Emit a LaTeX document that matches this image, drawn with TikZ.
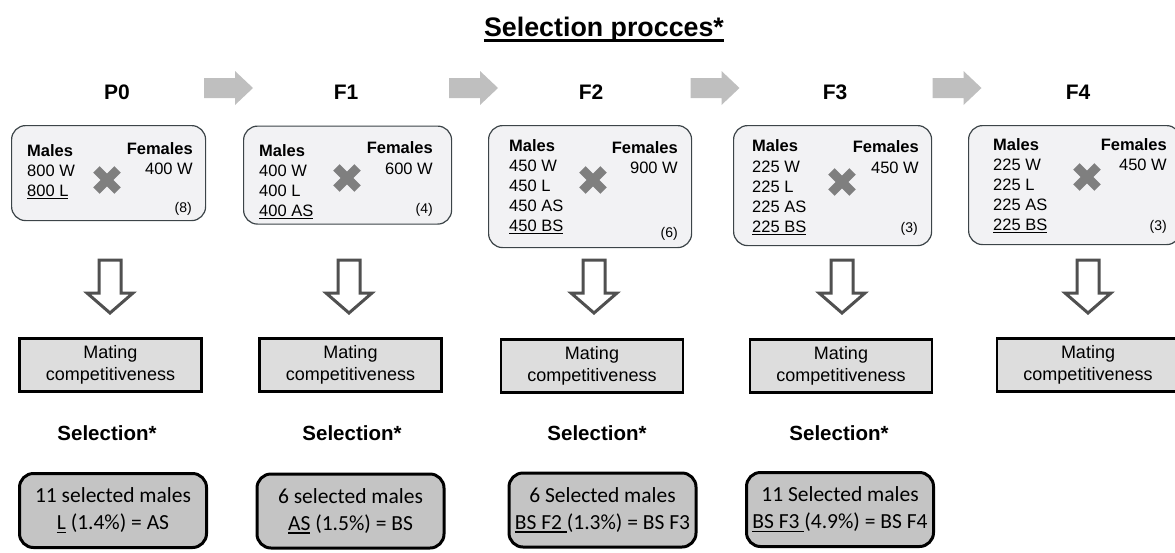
\documentclass[tikz,border=0pt]{standalone}
\usepackage{fontspec}
\setmainfont{Liberation Sans}
\newfontfamily\calfont{Carlito}
\definecolor{topborder}{HTML}{3C4448}
\definecolor{topfill}{HTML}{F2F2F4}
\definecolor{xgray}{HTML}{7F7F7F}
\definecolor{arrgray}{HTML}{BFBFBF}
\definecolor{darrgray}{HTML}{505050}
\definecolor{matefill}{HTML}{DDDDDD}
\definecolor{selfill}{HTML}{C4C4C4}
\newcommand\myul[2][1pt]{\setbox0\hbox{#2}\makebox[0pt][l]{\rule[-3.2pt]{\wd0}{#1}}\box0\relax}
\begin{document}
\begin{tikzpicture}[x=1pt,y=-1pt,
  topbox/.style={draw=topborder, line width=1.2pt, fill=topfill, rounded corners=14pt, anchor=north west, inner sep=0, minimum width=#1},
  lbl/.style={inner sep=0, font=\fontsize{16.5}{20}\selectfont},
  lblb/.style={inner sep=0, font=\fontsize{16.5}{20}\selectfont\bfseries},
  small/.style={inner sep=0, font=\fontsize{14}{16}\selectfont, anchor=base east},
  head/.style={inner sep=0, font=\fontsize{21}{25}\selectfont\bfseries, anchor=base},
  matebox/.style={draw=black, line width=2.6pt, fill=matefill, minimum width=182, minimum height=53, align=center, inner sep=0, font=\fontsize{18}{22}\selectfont},
  selbox/.style={draw=black, line width=3pt, fill=selfill, rounded corners=14pt, minimum width=187, minimum height=74, align=center, inner sep=0, font=\calfont\fontsize{21.5}{27}\selectfont},
  seltxt/.style={inner sep=0, font=\fontsize{20.5}{24}\selectfont\bfseries, anchor=base},
  xmark/.pic={\draw[xgray, line width=9pt] (-10.6,-10.6) -- (10.6,10.6) (-10.6,10.6) -- (10.6,-10.6);},
  rarrow/.pic={\fill[arrgray] (-24,-10) -- (7,-10) -- (7,-17) -- (25,0) -- (7,17) -- (7,10) -- (-24,10) -- cycle;},
  darrow/.pic={\draw[darrgray, line width=3pt, line join=miter, fill=white] (-11,-27) -- (11,-27) -- (11,6) -- (23,6) -- (0,26) -- (-23,6) -- (-11,6) -- cycle;}
]
\useasboundingbox (0,0) rectangle (1175,552);

% title
\node[inner sep=0, anchor=base, font=\fontsize{26.8}{30}\selectfont\bfseries] (title) at (604,36) {Selection procces*};
\draw[line width=2.3pt] ([yshift=-4.5pt]title.base west) -- ([yshift=-4.5pt]title.base east);

% headings
\node[head] (hP0) at (117,99.5) {P0};
\node[head] (hF1) at (346,99.5) {F1};
\node[head] (hF2) at (591,99.5) {F2};
\node[head] (hF3) at (835,99.5) {F3};
\node[head] (hF4) at (1078,99.5) {F4};

% gray arrows between headings
\coordinate (r1) at (228,88);
\coordinate (r2) at (473,88);
\coordinate (r3) at (714.5,88);
\coordinate (r4) at (956.5,88);
\pic at (r1) {rarrow};
\pic at (r2) {rarrow};
\pic at (r3) {rarrow};
\pic at (r4) {rarrow};

% top boxes
\node[topbox=194, minimum height=95] (bP0) at (11,125) {};
\node[topbox=208, minimum height=98] (bF1) at (243,125.5) {};
\node[topbox=203, minimum height=122] (bF2) at (488,125) {};
\node[topbox=198, minimum height=120] (bF3) at (733,125) {};
\node[topbox=212, minimum height=119] (bF4) at (968,125) {};

% P0 contents
\node[lblb, anchor=base west] (mP0) at (27,156) {Males};
\node[lbl, anchor=base west] (mP0a) at (27,176) {800 W};
\node[lbl, anchor=base west] (mP0b) at (27,196) {\myul{800 L}};
\node[lblb, anchor=base east] (fP0) at (193,154) {Females};
\node[lbl, anchor=base east] (fP0a) at (193,174) {400 W};
\node[small] (nP0) at (192,212) {(8)};
\pic at (107,180) {xmark};

% F1 contents
\node[lblb, anchor=base west] (mF1) at (259,156) {Males};
\node[lbl, anchor=base west] (mF1a) at (259,176) {400 W};
\node[lbl, anchor=base west] (mF1b) at (259,196) {400 L};
\node[lbl, anchor=base west] (mF1c) at (259,216) {\myul{400 AS}};
\node[lblb, anchor=base east] (fF1) at (433,153) {Females};
\node[lbl, anchor=base east] (fF1a) at (433,174) {600 W};
\node[small] (nF1) at (433,213) {(4)};
\pic at (347,178) {xmark};

% F2 contents
\node[lblb, anchor=base west] (mF2) at (509,151) {Males};
\node[lbl, anchor=base west] (mF2a) at (509,171) {450 W};
\node[lbl, anchor=base west] (mF2b) at (509,191) {450 L};
\node[lbl, anchor=base west] (mF2c) at (509,211) {450 AS};
\node[lbl, anchor=base west] (mF2d) at (509,231) {\myul{450 BS}};
\node[lblb, anchor=base east] (fF2) at (678,153) {Females};
\node[lbl, anchor=base east] (fF2a) at (678,173) {900 W};
\node[small] (nF2) at (678,237) {(6)};
\pic at (593,180) {xmark};

% F3 contents
\node[lblb, anchor=base west] (mF3) at (752,151) {Males};
\node[lbl, anchor=base west] (mF3a) at (752,172) {225 W};
\node[lbl, anchor=base west] (mF3b) at (752,192) {225 L};
\node[lbl, anchor=base west] (mF3c) at (752,212) {225 AS};
\node[lbl, anchor=base west] (mF3d) at (752,232) {\myul{225 BS}};
\node[lblb, anchor=base east] (fF3) at (919,152) {Females};
\node[lbl, anchor=base east] (fF3a) at (919,173) {450 W};
\node[small] (nF3) at (918,232) {(3)};
\pic at (842,182) {xmark};

% F4 contents
\node[lblb, anchor=base west] (mF4) at (993,150) {Males};
\node[lbl, anchor=base west] (mF4a) at (993,170) {225 W};
\node[lbl, anchor=base west] (mF4b) at (993,190) {225 L};
\node[lbl, anchor=base west] (mF4c) at (993,210) {225 AS};
\node[lbl, anchor=base west] (mF4d) at (993,230) {\myul{225 BS}};
\node[lblb, anchor=base east] (fF4) at (1167,150) {Females};
\node[lbl, anchor=base east] (fF4a) at (1167,170) {450 W};
\node[small] (nF4) at (1167,230) {(3)};
\pic at (1087,177) {xmark};

% hollow down arrows
\coordinate (dP0) at (110,287);
\coordinate (dF1) at (349,287);
\coordinate (dF2) at (594,287);
\coordinate (dF3) at (842,287);
\coordinate (dF4) at (1088,287);
\pic at (dP0) {darrow};
\pic at (dF1) {darrow};
\pic at (dF2) {darrow};
\pic at (dF3) {darrow};
\pic at (dF4) {darrow};

% mating boxes
\node[matebox] (cP0) at (110.5,365) {Mating\\competitiveness};
\node[matebox] (cF1) at (350.5,365) {Mating\\competitiveness};
\node[matebox] (cF2) at (592,366) {Mating\\competitiveness};
\node[matebox] (cF3) at (841,366) {Mating\\competitiveness};
\node[matebox] (cF4) at (1088,365) {Mating\\competitiveness};

% selection labels
\node[seltxt] (sP0) at (107,440) {Selection*};
\node[seltxt] (sF1) at (352,440) {Selection*};
\node[seltxt] (sF2) at (597,440) {Selection*};
\node[seltxt] (sF3) at (839,440) {Selection*};

% selected males boxes
\node[selbox] (eP0) at (113,510.5) {11 selected males\\\myul[1.3pt]{L} (1.4\%) = AS};
\node[selbox] (eF1) at (350.5,511) {6 selected males\\\myul[1.3pt]{AS} (1.5\%) = BS};
\node[selbox] (eF2) at (602.5,510) {6 Selected males\\\myul[1.3pt]{BS F2\ }(1.3\%) = BS F3};
\node[selbox] (eF3) at (840,509.5) {11 Selected males\\\myul[1.3pt]{BS F3\ }(4.9\%) = BS F4};
\end{tikzpicture}
\end{document}
